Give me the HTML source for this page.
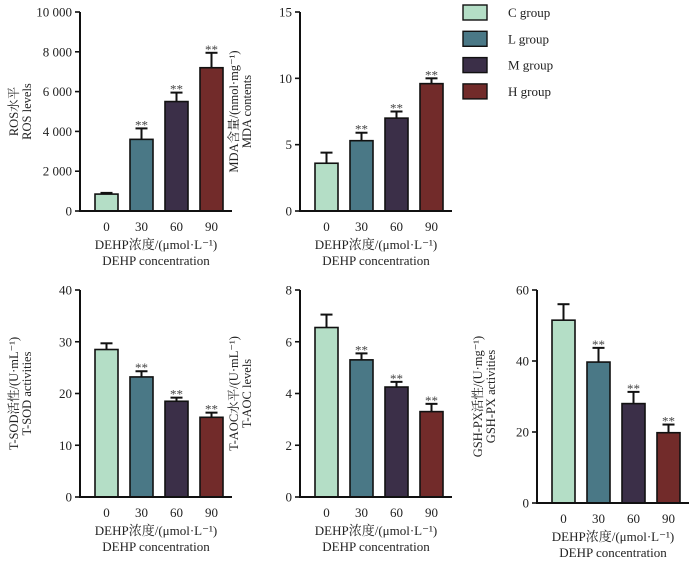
<!DOCTYPE html>
<html><head><meta charset="utf-8"><style>
body{margin:0;background:#fff}
svg{display:block;font-family:"Liberation Serif","Noto Serif CJK SC",serif}
</style></head><body>
<svg id="c" width="700" height="565"></svg>
<script>
const categories=["0","30","60","90"];
const groupNames=["C group","L group","M group","H group"];
const colors=["#b4dec6","#4a7886","#3b2f48","#722b2a"];
const rosValues=[850,3600,5500,7200];
const rosErrors=[60,550,450,750];
const rosSig=[false,true,true,true];
const mdaValues=[3.6,5.3,7.0,9.6];
const mdaErrors=[0.8,0.6,0.5,0.4];
const sodValues=[28.5,23.2,18.5,15.4];
const sodErrors=[1.2,1.1,0.7,0.9];
const aocValues=[6.55,5.3,4.25,3.3];
const aocErrors=[0.5,0.25,0.2,0.3];
const gshValues=[51.5,39.7,28.0,19.8];
const gshErrors=[4.5,4.0,3.3,2.3];
const rosTicks=[0,2000,4000,6000,8000,10000];
const rosTickLabels=["0","2 000","4 000","6 000","8 000","10 000"];
const mdaTicks=[0,5,10,15];
const sodTicks=[0,10,20,30,40];
const aocTicks=[0,2,4,6,8];
const gshTicks=[0,20,40,60];

const NS="http://www.w3.org/2000/svg";
const svg=document.getElementById('c');
function el(tag,attrs,parent){const e=document.createElementNS(NS,tag);for(const k in attrs)e.setAttribute(k,attrs[k]);(parent||svg).appendChild(e);return e;}
function txt(s,attrs,parent){const t=el('text',attrs,parent);t.textContent=s;return t;}

const panels=[
 {name:'ros',ax:80,y0:211,yt:12,max:10000,ticks:rosTicks,labels:rosTickLabels,vals:rosValues,errs:rosErrors,sig:rosSig,l1:'ROS水平',l2:'ROS levels',lx:18,two:false},
 {name:'mda',ax:300,y0:211,yt:12,max:15,ticks:mdaTicks,labels:mdaTicks.map(String),vals:mdaValues,errs:mdaErrors,sig:[false,true,true,true],l1:'MDA含量/(nmol·mg⁻¹)',l2:'MDA contents',lx:238,two:true},
 {name:'sod',ax:80,y0:497,yt:290,max:40,ticks:sodTicks,labels:sodTicks.map(String),vals:sodValues,errs:sodErrors,sig:[false,true,true,true],l1:'T-SOD活性/(U·mL⁻¹)',l2:'T-SOD activities',lx:18,two:true},
 {name:'aoc',ax:300,y0:497,yt:290,max:8,ticks:aocTicks,labels:aocTicks.map(String),vals:aocValues,errs:aocErrors,sig:[false,true,true,true],l1:'T-AOC水平/(U·mL⁻¹)',l2:'T-AOC levels',lx:238,two:true},
 {name:'gsh',ax:537,y0:503,yt:290,max:60,ticks:gshTicks,labels:gshTicks.map(String),vals:gshValues,errs:gshErrors,sig:[false,true,true,true],l1:'GSH-PX活性/(U·mg⁻¹)',l2:'GSH-PX activities',lx:482,two:true}
];

panels.forEach(p=>{
 const g=el('g',{});
 
 
 const ys=v=>p.y0-(v/p.max)*(p.y0-p.yt);
 const bw=23;
 p.vals.forEach((v,i)=>{
  const x=p.ax+15+i*35;
  const top=ys(v),et=ys(v+p.errs[i]);
  const l=el('line',{x1:x+bw/2,x2:x+bw/2,y1:top,y2:et,stroke:'#111','stroke-width':2},g);
  
  
  const c=el('line',{x1:x+bw/2-6,x2:x+bw/2+6,y1:et,y2:et,stroke:'#111','stroke-width':2},g);
  
  
  const r=el('rect',{x:x,y:top,width:bw,height:p.y0-top,fill:colors[i],stroke:'#111','stroke-width':1.6},g);
  
  
  if(p.sig[i]){const s=txt('**',{x:x+bw/2,y:et+1,'text-anchor':'middle','font-size':13,fill:'#444'},g);
   
   }
  const tl=txt(categories[i],{x:x+bw/2,y:p.y0+20,'text-anchor':'middle','font-size':13,fill:'#222'},g);
  
  
 });
 el('line',{x1:p.ax,x2:p.ax,y1:p.yt,y2:p.y0,stroke:'#111','stroke-width':2},g);
 el('line',{x1:p.ax-1,x2:p.ax+152,y1:p.y0,y2:p.y0,stroke:'#111','stroke-width':2},g);
 p.ticks.forEach((t,i)=>{
  el('line',{x1:p.ax-5,x2:p.ax,y1:ys(t),y2:ys(t),stroke:'#111','stroke-width':1.6},g);
  const tl=txt(p.labels[i],{x:p.ax-8,y:ys(t)+4.5,'text-anchor':'end','font-size':13,fill:'#222'},g);
  
  
 });
 const cx=p.ax+76;
 const t1=txt('DEHP浓度/(μmol·L⁻¹)',{x:cx,y:p.y0+38,'text-anchor':'middle','font-size':13,fill:'#222'},g);
 
 
 const t2=txt('DEHP concentration',{x:cx,y:p.y0+54,'text-anchor':'middle','font-size':13,fill:'#222'},g);
 
 
 const my=(p.y0+p.yt)/2;
 const y1=txt(p.l1,{x:p.lx,y:my,'text-anchor':'middle','font-size':12.5,fill:'#222',transform:`rotate(-90 ${p.lx} ${my})`},g);
 
 
 const y2=txt(p.l2,{x:p.lx+13,y:my,'text-anchor':'middle','font-size':12.5,fill:'#222',transform:`rotate(-90 ${p.lx+13} ${my})`},g);
 
 
});

groupNames.forEach((n,i)=>{
 const g=el('g',{});
 
 
 const y=5+i*26.3;
 el('rect',{x:463,y:y,width:24,height:15,fill:colors[i],stroke:'#111','stroke-width':1.4},g);
 txt(n,{x:508,y:y+12,'font-size':13,fill:'#222'},g);
});
</script>
</body></html>
